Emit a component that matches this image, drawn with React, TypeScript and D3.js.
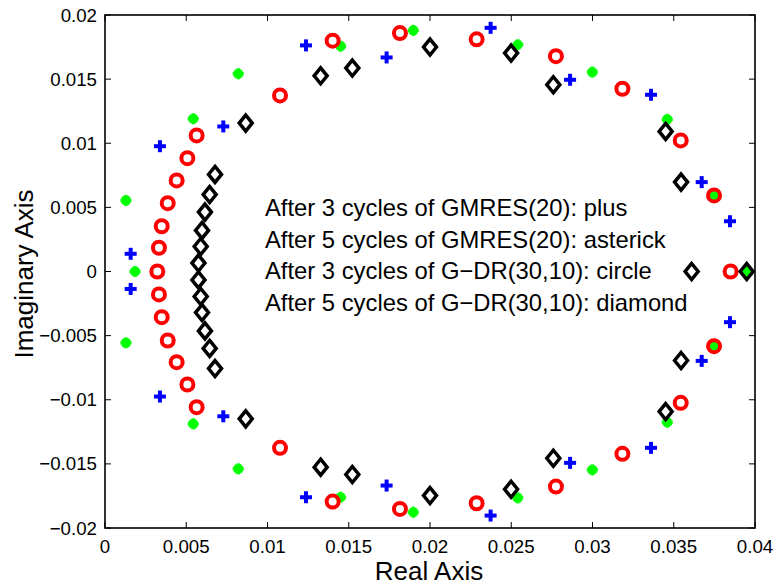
import React from "react";
import * as d3 from "d3";

// GMRES(20), 3 cycles: plus (blue)
const plusRe = [0.00158, 0.00158, 0.00338, 0.00338, 0.00728, 0.00728, 0.01237, 0.01237, 0.01733, 0.01733, 0.02373, 0.02373, 0.02862, 0.02862, 0.0336, 0.0336, 0.03672, 0.03672, 0.03846, 0.03846];
const plusIm = [0.00138, -0.00136, 0.00977, -0.00975, 0.01131, -0.01129, 0.01763, -0.0176, 0.01669, -0.01669, 0.019, -0.01903, 0.01495, -0.01492, 0.01378, -0.01375, 0.00697, -0.00697, 0.00392, -0.00395];

// GMRES(20), 5 cycles: asterisk (green)
const starRe = [0.00185, 0.00129, 0.00129, 0.00543, 0.00543, 0.0082, 0.0082, 0.0145, 0.0145, 0.01897, 0.01897, 0.0254, 0.0254, 0.02999, 0.02999, 0.0346, 0.0346, 0.03748, 0.03748, 0.03953];
const starIm = [0, 0.00554, -0.00556, 0.01191, -0.01188, 0.01542, -0.01539, 0.01757, -0.0176, 0.0188, -0.01877, 0.01768, -0.01765, 0.01555, -0.01547, 0.01186, -0.01175, 0.00593, -0.00582, 0];

// G-DR(30,10), 3 cycles: circle (red)
const circRe = [0.00322, 0.00332, 0.00332, 0.00349, 0.00349, 0.00386, 0.00386, 0.00441, 0.00441, 0.00507, 0.00507, 0.00564, 0.00564, 0.01077, 0.01077, 0.01401, 0.01401, 0.01815, 0.01815, 0.02287, 0.02287, 0.02775, 0.02775, 0.03184, 0.03184, 0.03543, 0.03543, 0.03748, 0.03748, 0.0385];
const circIm = [0, 0.00185, -0.00179, 0.00353, -0.00356, 0.00533, -0.00538, 0.0071, -0.00707, 0.00884, -0.00881, 0.01061, -0.01058, 0.01373, -0.01375, 0.018, -0.01794, 0.01859, -0.01851, 0.0181, -0.01807, 0.01679, -0.01677, 0.01425, -0.01422, 0.01022, -0.01024, 0.00593, -0.00582, 0];

// G-DR(30,10), 5 cycles: diamond (black)
const diamRe = [0.00677, 0.00677, 0.00644, 0.00644, 0.00615, 0.00615, 0.00597, 0.00597, 0.00589, 0.00589, 0.00575, 0.00575, 0.00866, 0.00866, 0.01327, 0.01327, 0.01522, 0.01522, 0.02, 0.02, 0.02499, 0.02499, 0.02759, 0.02759, 0.0345, 0.0345, 0.03545, 0.03545, 0.0361, 0.03949];
const diamIm = [0.00757, -0.00757, 0.006, -0.006, 0.00463, -0.00463, 0.0032, -0.0032, 0.00195, -0.00195, 0.00066, -0.00066, 0.01157, -0.01149, 0.01526, -0.01526, 0.01586, -0.01583, 0.0175, -0.01747, 0.01703, -0.01698, 0.01456, -0.01456, 0.01092, -0.01092, 0.00697, -0.00694, 0, 0];

const xTicks = [0, 0.005, 0.01, 0.015, 0.02, 0.025, 0.03, 0.035, 0.04];
const yTicks = [-0.02, -0.015, -0.01, -0.005, 0, 0.005, 0.01, 0.015, 0.02];
const legendLines = [
  "After 3 cycles of GMRES(20): plus",
  "After 5 cycles of GMRES(20): asterick",
  "After 3 cycles of G\u2212DR(30,10): circle",
  "After 5 cycles of G\u2212DR(30,10): diamond",
];

const W = 780, H = 585;
const L = 105, R = 755, T = 15, B = 528;

function fmt(v: number): string {
  if (v === 0) return "0";
  const s = String(+v.toFixed(4));
  return s.replace("-", "\u2212");
}

export default function App() {
  const x = d3.scaleLinear().domain([0, 0.04]).range([L, R]);
  const y = d3.scaleLinear().domain([-0.02, 0.02]).range([B, T]);
  const font = "'Liberation Sans', Arial, Helvetica, sans-serif";
  const tk = 6;
  const diamond = "M0,-8L6.5,0L0,8L-6.5,0Z";
  return (
    <svg width={W} height={H} style={{ position: "absolute", left: 0, top: 0, background: "#fff" }} fontFamily={font}>
      <rect x={0} y={0} width={W} height={H} fill="#fff" />
      {/* ticks */}
      {xTicks.map((t, i) => (
        <g key={"xt" + i}>
          <line x1={x(t)} x2={x(t)} y1={B} y2={B - tk} stroke="#000" strokeWidth={1} />
          <line x1={x(t)} x2={x(t)} y1={T} y2={T + tk} stroke="#000" strokeWidth={1} />
          <text x={x(t)} y={553} fontSize={18.7} textAnchor="middle" fill="#000">{fmt(t)}</text>
        </g>
      ))}
      {yTicks.map((t, i) => (
        <g key={"yt" + i}>
          <line x1={L} x2={L + tk} y1={y(t)} y2={y(t)} stroke="#000" strokeWidth={1} />
          <line x1={R} x2={R - tk} y1={y(t)} y2={y(t)} stroke="#000" strokeWidth={1} />
          <text x={97} y={y(t) + 6.5} fontSize={18.7} textAnchor="end" fill="#000">{fmt(t)}</text>
        </g>
      ))}
      <rect x={L} y={T} width={R - L} height={B - T} fill="none" stroke="#000" strokeWidth={1.6} />

      {/* blue plus */}
      {plusRe.map((re, i) => (
        <g key={"p" + i} transform={`translate(${x(re)},${y(plusIm[i])})`} stroke="#0000ff" strokeWidth={4}>
          <line x1={-6} x2={6} y1={0} y2={0} />
          <line x1={0} x2={0} y1={-6} y2={6} />
        </g>
      ))}
      {/* green asterisk */}
      {starRe.map((re, i) => (
        <g key={"s" + i} transform={`translate(${x(re)},${y(starIm[i])})`} stroke="#00ff00" strokeWidth={3.5}>
          <line x1={-5.5} x2={5.5} y1={0} y2={0} />
          <line x1={0} x2={0} y1={-5.5} y2={5.5} />
          <line x1={-3.6} x2={3.6} y1={-3.6} y2={3.6} />
          <line x1={-3.6} x2={3.6} y1={3.6} y2={-3.6} />
        </g>
      ))}
      {/* red circles */}
      {circRe.map((re, i) => (
        <circle key={"c" + i} cx={x(re)} cy={y(circIm[i])} r={6} fill="none" stroke="#ff0000" strokeWidth={4} />
      ))}
      {/* black diamonds */}
      {diamRe.map((re, i) => (
        <path key={"d" + i} d={diamond} transform={`translate(${x(re)},${y(diamIm[i])})`} fill="none" stroke="#000" strokeWidth={3.5} />
      ))}

      {/* legend text */}
      {legendLines.map((s, i) => (
        <text key={"l" + i} x={265} y={216 + i * 31.6} fontSize={23.8} fill="#000">{s}</text>
      ))}

      <text x={429} y={580} fontSize={26} textAnchor="middle" fill="#000">Real Axis</text>
      <text transform={`translate(33,274) rotate(-90)`} fontSize={26} textAnchor="middle" fill="#000">Imaginary Axis</text>
    </svg>
  );
}
